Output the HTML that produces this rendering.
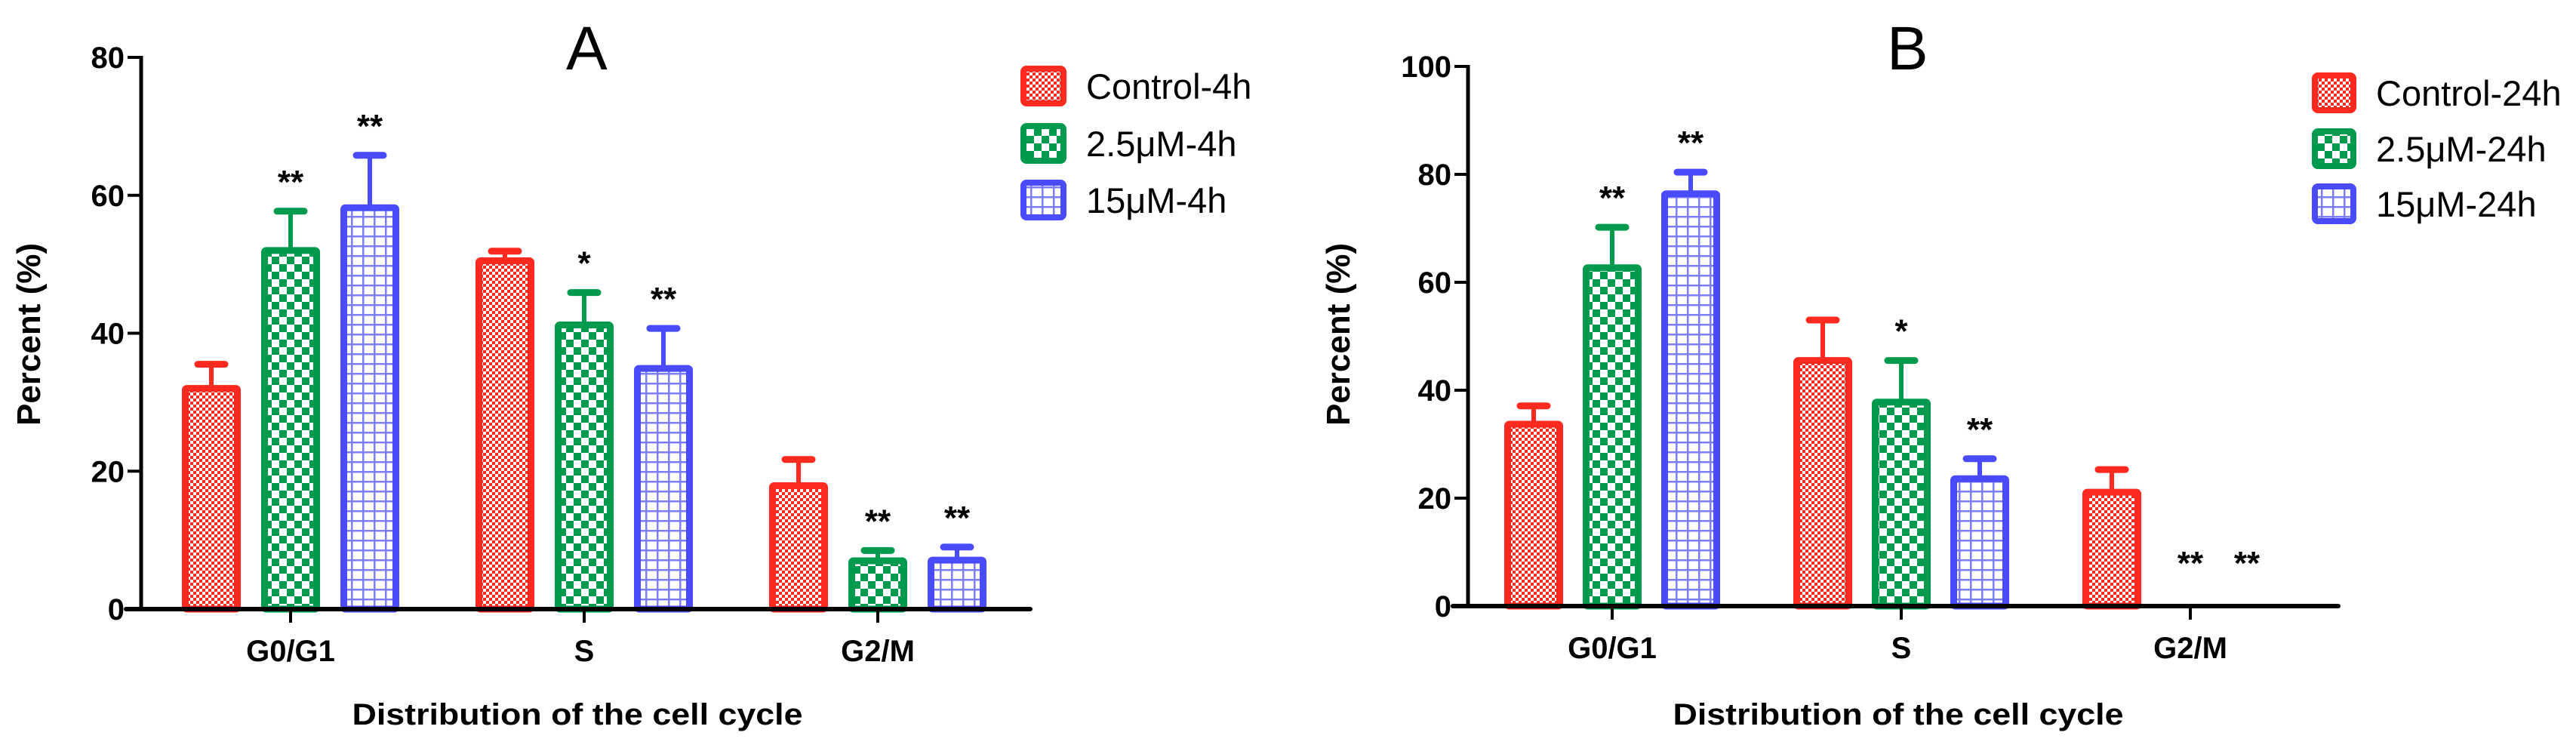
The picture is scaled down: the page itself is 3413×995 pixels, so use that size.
<!DOCTYPE html>
<html><head><meta charset="utf-8"><style>
html,body{margin:0;padding:0;background:#fff;}
svg{display:block;font-family:"Liberation Sans",Arial,sans-serif;}
</style></head><body>
<svg id="fig" width="3413" height="995" viewBox="0 0 3413 995" xmlns="http://www.w3.org/2000/svg">
<defs>
<pattern id="pR" width="8" height="8" patternUnits="userSpaceOnUse"><rect width="8" height="8" fill="#fff"/><rect width="4" height="4" fill="#ff2a1f"/><rect x="4" y="4" width="4" height="4" fill="#ff2a1f"/></pattern>
<pattern id="pG" width="20" height="20" patternUnits="userSpaceOnUse"><rect width="20" height="20" fill="#fff"/><rect width="10" height="10" fill="#009a4e"/><rect x="10" y="10" width="10" height="10" fill="#009a4e"/></pattern>
<pattern id="pB" width="15" height="13" patternUnits="userSpaceOnUse"><rect width="15" height="13" fill="#fff"/><rect width="2.5" height="13" fill="#7d7dff"/><rect width="15" height="2.5" fill="#7d7dff"/></pattern>
</defs>
<g id="root"></g>
</svg>
<script>
var categories = ["G0/G1", "S", "G2/M"];
var seriesA = ["Control-4h", "2.5\u03bcM-4h", "15\u03bcM-4h"];
var seriesB = ["Control-24h", "2.5\u03bcM-24h", "15\u03bcM-24h"];
var ticksA = [0, 20, 40, 60, 80];
var ticksB = [0, 20, 40, 60, 80, 100];
// Panel A values (mean) and upper error
var controlA = [32.0, 50.5, 17.9];
var midA = [52.0, 41.2, 7.0];
var highA = [58.2, 34.9, 7.1];
var controlAErr = [3.5, 1.4, 3.8];
var midAErr = [5.7, 4.7, 1.5];
var highAErr = [7.6, 5.8, 1.9];
var starsA = [["", "**", "**"], ["", "*", "**"], ["", "**", "**"]];
// Panel B
var controlB = [33.7, 45.5, 21.1];
var midB = [62.7, 37.8, 0];
var highB = [76.4, 23.6, 0];
var controlBErr = [3.4, 7.5, 4.2];
var midBErr = [7.5, 7.7, 0];
var highBErr = [4.0, 3.7, 0];
var starsB = [["", "**", "**"], ["", "*", "**"], ["", "**", "**"]];

var NS = "http://www.w3.org/2000/svg";
var root = document.getElementById("root");
var colors = ["#ff2a1f", "#009a4e", "#4a4aff"];
var fills = ["url(#pR)", "url(#pG)", "url(#pB)"];
function mk(tag, attrs, parent, txt) {
  var e = document.createElementNS(NS, tag);
  for (var k in attrs) e.setAttribute(k, attrs[k]);
  if (txt !== undefined) e.textContent = txt;
  (parent || root).appendChild(e);
  return e;
}

function panel(cfg) {
  var g = mk("g", {});
  
  
  function yS(v) { return cfg.y0 - (v - 0) / cfg.max * (cfg.y0 - cfg.yTop); }
  function xS(ci) { return cfg.x0 + ci * cfg.catStep; }
  var vals = [cfg.c, cfg.m, cfg.h];
  var errs = [cfg.ce, cfg.me, cfg.he];
  for (var ci = 0; ci < categories.length; ci++) {
    for (var s = 0; s < 3; s++) {
      var v = vals[s][ci], e = errs[s][ci];
      var cx = xS(ci) + (s - 1) * cfg.barStep;
      var bw = 69;
      if (v > 0) {
        var bar = mk("rect", {x: cx - bw / 2, y: yS(v), width: bw, height: yS(0) - yS(v), fill: fills[s], stroke: colors[s], "stroke-width": 9, rx: 2}, g);
        
        
      }
      if (e > 0) {
        var ln = mk("line", {x1: cx, x2: cx, y1: yS(v) - 4, y2: yS(v + e), stroke: colors[s], "stroke-width": 6}, g);
        
        
        var cap = mk("line", {x1: cx - 18, x2: cx + 18, y1: yS(v + e), y2: yS(v + e), stroke: colors[s], "stroke-width": 9, "stroke-linecap": "round"}, g);
        
        
      }
      var st = cfg.stars[ci][s];
      if (st) {
        var ref = Math.min(yS(v + e), yS(0) - 18);
        var sx = (v === 0 && s === 2) ? cx - 29 : cx;
        var t = mk("text", {x: sx, y: ref - 50 + 26, "text-anchor": "middle", "font-size": 44, "font-weight": "bold"}, g, st);
        
        
      }
    }
  }
  var ya = mk("line", {x1: cfg.ax, x2: cfg.ax, y1: cfg.yTop - 2, y2: cfg.y0 + 2, stroke: "#000", "stroke-width": 5}, g);
  
  
  var xa = mk("line", {x1: cfg.ax - 20, x2: cfg.xEnd, y1: cfg.y0, y2: cfg.y0, stroke: "#000", "stroke-width": 6, "stroke-linecap": "round"}, g);
  
  
  cfg.ticks.forEach(function (tv) {
    var tk = mk("line", {x1: cfg.ax - 18, x2: cfg.ax, y1: yS(tv), y2: yS(tv), stroke: "#000", "stroke-width": 4}, g);
    
    
    var tl = mk("text", {x: cfg.ax - 22, y: yS(tv) + 14, "text-anchor": "end", "font-size": 40, "font-weight": "bold"}, g, String(tv));
    
    
  });
  categories.forEach(function (c, ci) {
    var tk = mk("line", {x1: xS(ci), x2: xS(ci), y1: cfg.y0, y2: cfg.y0 + 18, stroke: "#000", "stroke-width": 4}, g);
    
    
    var tl = mk("text", {x: xS(ci), y: cfg.y0 + 69, "text-anchor": "middle", "font-size": 40, "font-weight": "bold"}, g, c);
    
    
  });
  var xt = mk("text", {x: cfg.xTitleX, y: 960, "text-anchor": "middle", "font-size": 40, "font-weight": "bold", textLength: 597, lengthAdjust: "spacingAndGlyphs"}, g, "Distribution of the cell cycle");
  
  
  var yt = mk("text", {x: 0, y: 0, "text-anchor": "middle", "font-size": 44, "font-weight": "bold", transform: "translate(" + (cfg.yTitleX + 16) + ",443) rotate(-90)"}, g, "Percent (%)");
  
  
  var pt = mk("text", {x: cfg.titleX, y: 92, "font-size": 82}, g, cfg.title);
  
  
  cfg.series.forEach(function (sn, s) {
    var lg = mk("g", {}, g);
    
    
    var ly = cfg.legY[s];
    mk("rect", {x: cfg.legX + 4, y: ly + 4, width: cfg.legW - 8, height: 46, fill: fills[s], stroke: colors[s], "stroke-width": 8, rx: 4}, lg);
    mk("text", {x: cfg.legX + cfg.legTx, y: ly + 44, "font-size": 47}, lg, sn);
  });
}

panel({name: "panel-a", x0: 385, catStep: 389, barStep: 105, y0: 807, yTop: 76, max: 80, ax: 187, xEnd: 1365,
  c: controlA, m: midA, h: highA, ce: controlAErr, me: midAErr, he: highAErr, stars: starsA, ticks: ticksA,
  xTitleX: 765, yTitleX: 37, titleX: 750, title: "A", series: seriesA,
  legX: 1352, legW: 61, legTx: 87, legY: [87, 163, 238]});
panel({name: "panel-b", x0: 2136, catStep: 383, barStep: 104, y0: 803, yTop: 88, max: 100, ax: 1945, xEnd: 3098,
  c: controlB, m: midB, h: highB, ce: controlBErr, me: midBErr, he: highBErr, stars: starsB, ticks: ticksB,
  xTitleX: 2515, yTitleX: 1772, titleX: 2500, title: "B", series: seriesB,
  legX: 3063, legW: 59, legTx: 85, legY: [96, 170, 243]});
</script>
</body></html>
